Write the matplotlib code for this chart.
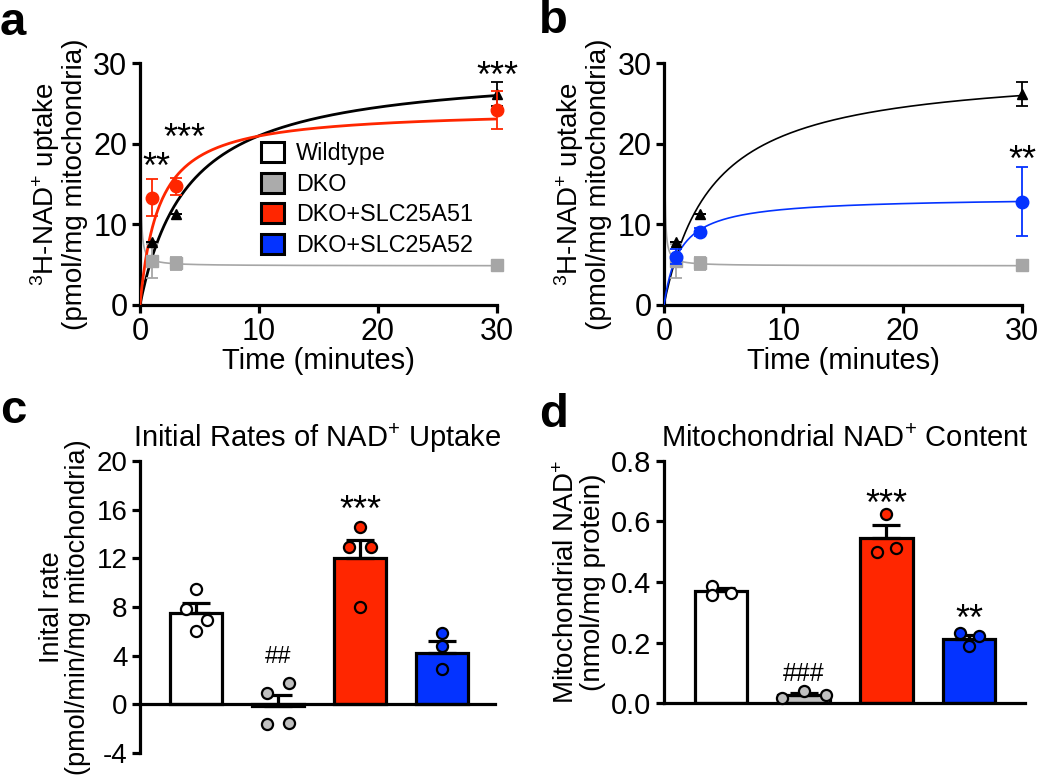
import numpy as np
import matplotlib
matplotlib.use("Agg")
import matplotlib.pyplot as plt
from matplotlib.patches import Patch

plt.rcParams['font.family'] = ['Liberation Sans', 'DejaVu Sans']
plt.rcParams['mathtext.fontset'] = 'custom'
plt.rcParams['mathtext.rm'] = 'Liberation Sans'
plt.rcParams['mathtext.it'] = 'Liberation Sans:italic'
plt.rcParams['mathtext.bf'] = 'Liberation Sans:bold'
plt.rcParams['axes.unicode_minus'] = False

# ---- data ----
groups = ["Wildtype", "DKO", "DKO+SLC25A51", "DKO+SLC25A52"]
time_min = [1, 3, 30]

wt_mean = [7.8, 11.3, 26.2]
wt_sem = [0.0, 0.0, 1.5]   # first two hidden behind the symbol
dko_mean = [5.5, 5.2, 4.9]
dko_sem = [2.1, 0.8, 0.2]
a51_mean = [13.3, 14.7, 24.2]
a51_sem = [2.3, 1.0, 2.4]
a52_mean = [6.0, 9.0, 12.8]
a52_sem = [0.9, 0.5, 4.3]

# hyperbolic fits  y = Bmax*t/(K+t)
wt_fit = (29.5, 4.05)
a51_fit = (24.3, 1.59)
a52_fit = (13.4, 1.31)
# DKO fit  y = plateau + d/t
dko_fit = (4.85, 0.8)

# panel c: initial rates
rate_mean = [7.5, -0.1, 12.0, 4.2]
rate_sem = [0.8, 0.85, 1.5, 1.0]
rate_pts = [[9.5, 7.8, 6.9, 6.05],
            [0.96, 1.79, -1.65, -1.51],
            [14.6, 12.9, 12.9, 8.0],
            [5.9, 4.8, 2.9]]
rate_pts_dx = [[0, -0.37, 0.42, 0],
               [-0.4, 0.4, -0.4, 0.4],
               [0, -0.42, 0.42, 0],
               [0, 0, 0]]

# panel d: NAD+ content
nad_mean = [0.37, 0.028, 0.545, 0.212]
nad_sem = [0.01, 0.006, 0.042, 0.014]
nad_pts = [[0.387, 0.358, 0.363],
           [0.017, 0.041, 0.028],
           [0.625, 0.50, 0.514],
           [0.231, 0.223, 0.19]]
nad_pts_dx = [[-0.35, -0.35, 0.35],
              [-0.8, 0.0, 0.8],
              [0, -0.35, 0.35],
              [-0.35, 0.35, 0]]

c_black = "black"
c_gray = "#A6A6A6"
c_lgray = "#C0C0C0"
c_red = "#FF2600"
c_blue = "#0433FF"
bar_colors = ["white", c_lgray, c_red, c_blue]

SPW = 2.3

fig = plt.figure(figsize=(10.5, 7.8), dpi=100)


def style_axes(ax, fs):
    for s in ["top", "right"]:
        ax.spines[s].set_visible(False)
    for s in ["left", "bottom"]:
        ax.spines[s].set_linewidth(SPW)
    ax.tick_params(width=SPW, length=6, labelsize=fs, pad=3)


def hyper(p, t):
    return p[0] * t / (p[1] + t)


def time_panel(ax, second, second_fit, second_mean, second_sem, second_marker, lw):
    t = np.linspace(0, 30, 400)
    td = np.linspace(0.005, 30, 4000)
    ax.plot(td, dko_fit[0] + dko_fit[1] / td, color=c_gray, lw=1.2, zorder=2)
    ax.plot(t, hyper(wt_fit, t), color=c_black, lw=lw, zorder=3)
    ax.plot(t, hyper(second_fit, t), color=second, lw=lw, zorder=3)
    ax.errorbar(time_min, dko_mean, yerr=dko_sem, fmt='s', color=c_gray, ms=8,
                capsize=4, elinewidth=1.3, capthick=1.3, clip_on=False, zorder=4)
    ax.errorbar(time_min, wt_mean, yerr=wt_sem, fmt='^', color=c_black, ms=7.5,
                capsize=4, elinewidth=1.3, capthick=1.3, clip_on=False, zorder=5)
    ax.errorbar(time_min, second_mean, yerr=second_sem, fmt=second_marker, color=second,
                ms=9, capsize=4, elinewidth=1.3, capthick=1.3, clip_on=False, zorder=6)
    ax.set_xlim(0, 30)
    ax.set_ylim(0, 30)
    ax.set_xticks([0, 10, 20, 30])
    ax.set_yticks([0, 10, 20, 30])
    style_axes(ax, 22)
    ax.set_xlabel("Time (minutes)", fontsize=21, labelpad=0)
    ax.set_ylabel("$^\\mathregular{3}$H-NAD$^\\mathregular{+}$ uptake\n(pmol/mg mitochondria)",
                  fontsize=20, labelpad=4, linespacing=1.0)


# ---- panel a ----
axa = fig.add_axes([0.1333, 0.609, 0.340, 0.310])
time_panel(axa, c_red, a51_fit, a51_mean, a51_sem, 'o', 2.0)
axa.text(1.4, 14.8, "**", ha='center', va='bottom', fontsize=26)
axa.text(3.7, 18.4, "***", ha='center', va='bottom', fontsize=26)
axa.text(30, 26.0, "***", ha='center', va='bottom', fontsize=26, clip_on=False)
handles = [Patch(facecolor=c, edgecolor='black', lw=2.2) for c in ["white", "#ABABAB", c_red, c_blue]]
axa.legend(handles, groups, loc='upper left', bbox_to_anchor=(0.34, 0.675), frameon=False,
           fontsize=16.8, handlelength=0.95, handleheight=0.95, handletextpad=0.55,
           labelspacing=0.33, borderpad=0, borderaxespad=0)

# ---- panel b ----
axb = fig.add_axes([0.6324, 0.609, 0.341, 0.310])
time_panel(axb, c_blue, a52_fit, a52_mean, a52_sem, 'o', 1.2)
axb.text(30, 15.6, "**", ha='center', va='bottom', fontsize=26, clip_on=False)


def bar_panel(ax, means, sems, pts, dxs, fs):
    x = np.arange(len(means))
    ax.bar(x, means, width=0.63, color=bar_colors, edgecolor='black', lw=SPW, zorder=2)
    ax.errorbar(x, means, yerr=[np.zeros(len(means)), sems], fmt='none', ecolor='black',
                elinewidth=SPW, capsize=10, capthick=SPW, zorder=3)
    for i in range(len(means)):
        xs = [x[i] + d * 0.33 for d in dxs[i]]
        ax.scatter(xs, pts[i], s=64, facecolor=bar_colors[i], edgecolor='black',
                   linewidth=1.6, zorder=4, clip_on=False)
    style_axes(ax, fs)
    ax.set_xticks([])
    ax.spines['bottom'].set_position(('data', 0))
    ax.tick_params(axis='x', length=0)


# ---- panel c ----
axc = fig.add_axes([0.1333, 0.0346, 0.338, 0.3744])
bar_panel(axc, rate_mean, rate_sem, rate_pts, rate_pts_dx, 20)
axc.set_xlim(-0.683, 3.646)
axc.set_ylim(-4, 20)
axc.set_yticks([-4, 0, 4, 8, 12, 16, 20])
axc.set_ylabel("Inital rate\n(pmol/min/mg mitochondria)", fontsize=19.5, labelpad=4, linespacing=1.0)
axc.set_title("Initial Rates of NAD$^\\mathregular{+}$ Uptake", fontsize=21, pad=10)
axc.text(1, 3.0, "##", ha='center', va='bottom', fontsize=17)
axc.text(2, 14.4, "***", ha='center', va='bottom', fontsize=26)

# ---- panel d ----
axd = fig.add_axes([0.6324, 0.0987, 0.3438, 0.3103])
bar_panel(axd, nad_mean, nad_sem, nad_pts, nad_pts_dx, 21)
axd.set_xlim(-0.69, 3.675)
axd.set_ylim(0, 0.8)
axd.set_yticks([0, 0.2, 0.4, 0.6, 0.8])
axd.set_yticklabels(["0.0", "0.2", "0.4", "0.6", "0.8"])
axd.set_ylabel("Mitochondrial NAD$^\\mathregular{+}$\n(nmol/mg protein)", fontsize=20, labelpad=4,
               linespacing=1.0)
axd.set_title("Mitochondrial NAD$^\\mathregular{+}$ Content", fontsize=21, pad=10)
axd.text(1, 0.057, "###", ha='center', va='bottom', fontsize=18)
axd.text(2, 0.595, "***", ha='center', va='bottom', fontsize=26)
axd.text(3, 0.215, "**", ha='center', va='bottom', fontsize=26)

# panel letters
for lbl, xx, yy in [("a", 0.0, 0.955), ("b", 0.513, 0.958), ("c", 0.0, 0.458), ("d", 0.513, 0.452)]:
    fig.text(xx, yy, lbl, fontsize=34, fontweight='bold', va='baseline', ha='left')

fig.savefig("out.png", dpi=100)
